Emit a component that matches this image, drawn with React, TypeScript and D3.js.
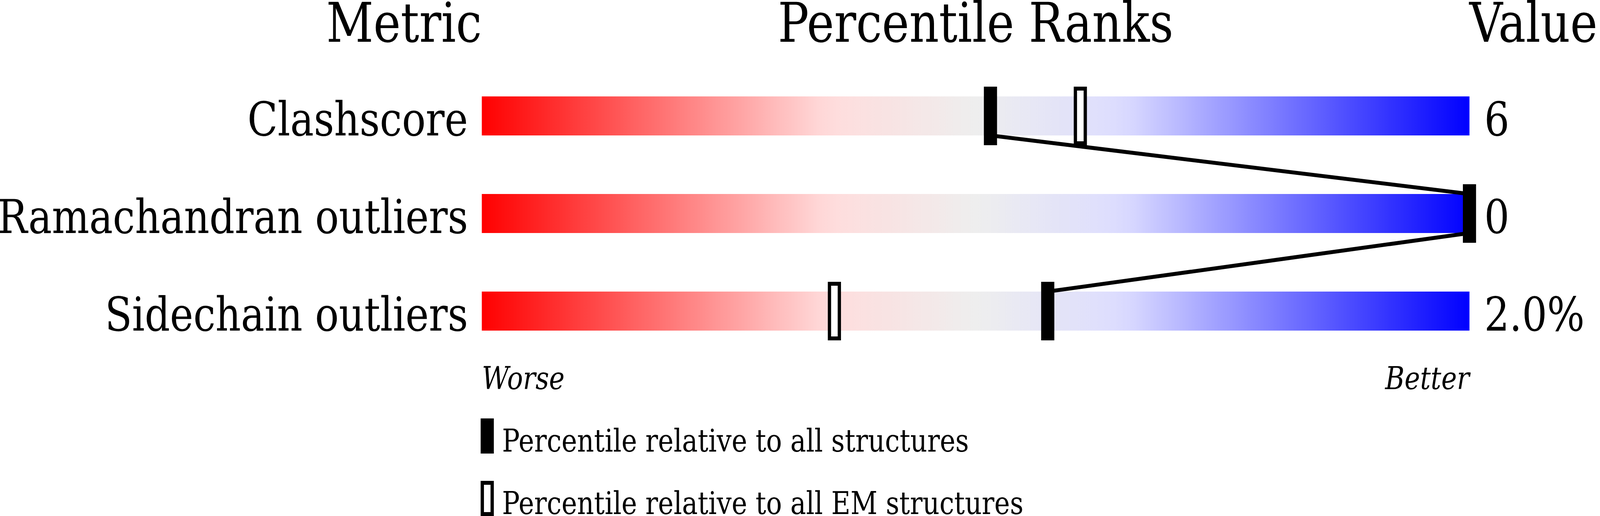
import React, { useEffect, useRef } from "react";
import * as d3 from "d3";

// Metrics shown in the slider, top to bottom
const metrics = ["Clashscore", "Ramachandran outliers", "Sidechain outliers"];
const values = ["6", "0", "2.0%"];
// percentile relative to all structures
const pctAll = [51.5, 100, 57.3];
// percentile relative to all EM structures (null = not shown)
const pctEM: (number | null)[] = [60.6, null, 35.7];

const headers = ["Metric", "Percentile Ranks", "Value"];
const legendLabels = [
  "Percentile relative to all structures",
  "Percentile relative to all EM structures",
];

// colour ramp from worse (red) to better (blue)
const rampStops = [0, 35, 50, 65, 100];
const rampColors = ["#ff0000", "#ffdcdc", "#eeeeee", "#dcdcff", "#0000ff"];

export default function App() {
  const ref = useRef<SVGSVGElement>(null);

  useEffect(() => {
    document.body.style.margin = "0";
    document.body.style.overflow = "hidden";
    if (!ref.current) return;
    const root = d3.select(ref.current);
    root.selectAll("*").remove();

    const W = 4860;
    const H = 1322;
    const font = "'DejaVu Serif', serif";
    const barLeft = 1463.5;
    const barRight = 4463.5;
    const barH = 100;

    // stretch the 4860x1322 drawing over the whole page
    root
      .attr("viewBox", `0 0 ${W} ${H}`)
      .attr("preserveAspectRatio", "none")
      .style("display", "block")
      .style("width", "100vw")
      .style("height", "100vh")
      .style("background", "#fff");

    const x = d3.scaleLinear().domain([0, 100]).range([barLeft, barRight]);
    const y = d3.scalePoint<string>().domain(metrics).range([297, 797]);
    const color = d3.scaleLinear<string>().domain(rampStops).range(rampColors);

    // gradient
    const defs = root.append("defs");
    const grad = defs
      .append("linearGradient")
      .attr("id", "ramp")
      .attr("x1", "0%")
      .attr("x2", "100%")
      .attr("y1", "0%")
      .attr("y2", "0%");
    d3.range(0, 101, 2).forEach((p) => {
      grad.append("stop").attr("offset", `${p}%`).attr("stop-color", color(p));
    });

    // column headers
    const hx = [barLeft, (barLeft + barRight) / 2, barRight - 0.5];
    const anchors = ["end", "middle", "start"];
    root
      .selectAll("text.header")
      .data(headers)
      .enter()
      .append("text")
      .attr("class", "header")
      .attr("x", (_, i) => hx[i])
      .attr("y", 107)
      .attr("text-anchor", (_, i) => anchors[i])
      .style("font-family", font)
      .style("font-size", "140px")
      .text((d) => d);

    // bars
    root
      .selectAll("rect.bar")
      .data(metrics)
      .enter()
      .append("rect")
      .attr("class", "bar")
      .attr("x", x(0))
      .attr("y", (d) => (y(d) as number) - barH / 2)
      .attr("width", x(100) - x(0))
      .attr("height", barH)
      .attr("fill", "url(#ramp)");

    // metric names
    root
      .selectAll("text.metric")
      .data(metrics)
      .enter()
      .append("text")
      .attr("class", "metric")
      .attr("x", barLeft - 42)
      .attr("y", (d) => (y(d) as number) + barH / 2)
      .attr("text-anchor", "end")
      .style("font-family", font)
      .style("font-size", "120px")
      .text((d) => d);

    // values
    root
      .selectAll("text.value")
      .data(values)
      .enter()
      .append("text")
      .attr("class", "value")
      .attr("x", barRight + 45)
      .attr("y", (_, i) => (y(metrics[i]) as number) + barH / 2)
      .style("font-family", font)
      .style("font-size", "120px")
      .text((d) => d);

    // connecting line through the "all structures" markers
    const pts: [number, number][] = [];
    metrics.forEach((m, i) => {
      const cy = y(m) as number;
      if (i > 0) pts.push([x(pctAll[i]), cy - barH / 2]);
      if (i < metrics.length - 1) pts.push([x(pctAll[i]), cy + barH / 2]);
    });
    root
      .append("path")
      .attr("d", d3.line()(pts))
      .attr("fill", "none")
      .attr("stroke", "#000")
      .attr("stroke-width", 10);

    // EM markers (hollow)
    const markW = 40;
    const markH = 150;
    root
      .selectAll("rect.em")
      .data(metrics.map((m, i) => ({ m, p: pctEM[i] })).filter((d) => d.p !== null))
      .enter()
      .append("rect")
      .attr("class", "em")
      .attr("x", (d) => x(d.p as number) - markW / 2 + 5)
      .attr("y", (d) => (y(d.m) as number) - markH / 2 + 5)
      .attr("width", markW - 10)
      .attr("height", markH - 10)
      .attr("fill", "#fff")
      .attr("stroke", "#000")
      .attr("stroke-width", 10);

    // all-structure markers (filled)
    root
      .selectAll("rect.all")
      .data(metrics)
      .enter()
      .append("rect")
      .attr("class", "all")
      .attr("x", (_, i) => x(pctAll[i]) - markW / 2)
      .attr("y", (d) => (y(d) as number) - markH / 2)
      .attr("width", markW)
      .attr("height", markH)
      .attr("fill", "#000");

    // Worse / Better
    root
      .append("text")
      .attr("x", barLeft)
      .attr("y", 997)
      .style("font-family", font)
      .style("font-style", "italic")
      .style("font-size", "80px")
      .text("Worse");
    root
      .append("text")
      .attr("x", barRight)
      .attr("y", 997)
      .attr("text-anchor", "end")
      .style("font-family", font)
      .style("font-style", "italic")
      .style("font-size", "80px")
      .text("Better");

    // legend
    const legY = [1072, 1232];
    root
      .append("rect")
      .attr("x", 1460)
      .attr("y", legY[0])
      .attr("width", 40)
      .attr("height", 90)
      .attr("fill", "#000");
    root
      .append("rect")
      .attr("x", 1465)
      .attr("y", legY[1] + 5)
      .attr("width", 30)
      .attr("height", 80)
      .attr("fill", "#fff")
      .attr("stroke", "#000")
      .attr("stroke-width", 10);
    root
      .selectAll("text.legend")
      .data(legendLabels)
      .enter()
      .append("text")
      .attr("class", "legend")
      .attr("x", 1525)
      .attr("y", (_, i) => legY[i] + 85)
      .style("font-family", font)
      .style("font-size", "80px")
      .text((d) => d);
  }, []);

  return <svg ref={ref}></svg>;
}
